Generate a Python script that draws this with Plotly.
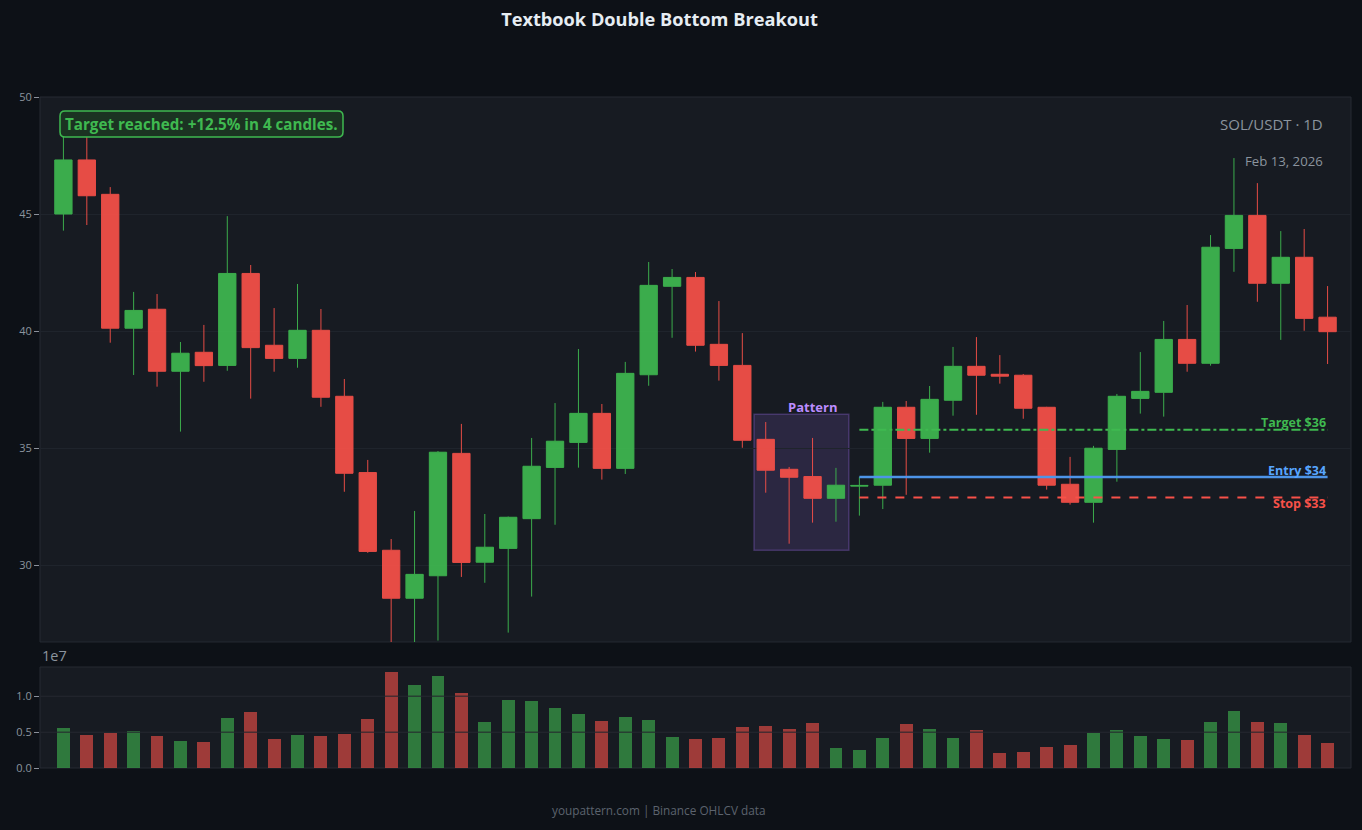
import pandas as pd
import plotly.graph_objects as go

# ---------------- data ----------------
dates = pd.date_range(end="2026-02-13", periods=55, freq="D")

opens = [45.00, 47.31, 45.84, 40.12, 40.93, 38.28, 39.09, 38.53, 42.46, 39.39,
         38.83, 40.03, 37.21, 33.95, 30.63, 28.58, 29.54, 34.77, 30.12, 30.71,
         31.98, 34.17, 35.24, 36.48, 34.13, 38.13, 41.91, 42.29, 39.43, 38.53,
         35.37, 34.09, 33.78, 32.85, 33.37, 33.41, 36.74, 35.41, 37.04, 38.49,
         38.15, 38.11, 36.74, 33.45, 32.68, 34.94, 37.12, 37.38, 39.64, 38.62,
         43.53, 44.94, 42.04, 43.15, 40.59]
highs = [48.60, 48.40, 46.15, 41.67, 41.58, 39.53, 40.26, 44.91, 42.82, 40.98,
         42.01, 40.94, 37.95, 34.49, 31.11, 32.31, 34.87, 36.03, 32.18, 32.07,
         35.43, 36.92, 39.23, 36.88, 38.68, 42.95, 42.65, 42.52, 41.28, 39.91,
         36.11, 34.19, 35.43, 34.15, 33.77, 36.97, 37.01, 37.65, 39.32, 39.74,
         38.97, 38.16, 36.76, 34.62, 35.09, 37.31, 39.10, 40.43, 41.11, 44.10,
         47.39, 46.32, 44.27, 44.36, 41.92]
lows = [44.29, 44.53, 39.50, 38.12, 37.62, 35.70, 37.83, 38.30, 37.11, 38.26,
        38.43, 36.76, 33.13, 30.52, 26.50, 26.60, 26.77, 29.49, 29.24, 27.11,
        28.65, 31.72, 34.16, 33.65, 33.89, 37.66, 39.71, 39.12, 37.88, 35.01,
        33.09, 30.91, 31.81, 31.85, 32.11, 32.39, 33.00, 34.80, 36.38, 36.42,
        37.75, 36.25, 33.22, 32.58, 31.81, 33.56, 36.47, 36.34, 38.26, 38.52,
        42.53, 41.25, 39.62, 40.01, 38.59]
closes = [47.31, 45.78, 40.12, 40.88, 38.28, 39.05, 38.52, 42.46, 39.29, 38.83,
          40.03, 37.17, 33.92, 30.58, 28.58, 29.60, 34.82, 30.11, 30.76, 32.04,
          34.22, 35.29, 36.48, 34.13, 38.19, 41.95, 42.29, 39.39, 38.53, 35.33,
          34.05, 33.75, 32.85, 33.41, 33.40, 36.74, 35.41, 37.08, 38.49, 38.11,
          38.07, 36.70, 33.41, 32.68, 34.99, 37.21, 37.42, 39.64, 38.62, 43.58,
          44.94, 42.04, 43.15, 40.54, 39.97]
volumes = [5.58e6, 4.60e6, 4.88e6, 5.16e6, 4.47e6, 3.77e6, 3.63e6, 6.98e6, 7.81e6, 4.05e6,
           4.60e6, 4.47e6, 4.74e6, 6.84e6, 13.40e6, 11.58e6, 12.84e6, 10.47e6, 6.42e6, 9.49e6,
           9.35e6, 8.37e6, 7.53e6, 6.56e6, 7.12e6, 6.70e6, 4.33e6, 4.05e6, 4.20e6, 5.70e6,
           5.85e6, 5.45e6, 6.30e6, 2.80e6, 2.50e6, 4.20e6, 6.10e6, 5.40e6, 4.20e6, 5.30e6,
           2.10e6, 2.20e6, 2.90e6, 3.20e6, 4.90e6, 5.30e6, 4.50e6, 4.00e6, 3.90e6, 6.40e6,
           8.00e6, 6.40e6, 6.30e6, 4.60e6, 3.50e6]

entry_level = 33.76
target_level = 35.78
stop_level = 32.88
level_start = 34          # index where trade levels begin
pattern_range = (29.5, 33.55)   # candle index span of the pattern box
pattern_price = (30.63, 36.44)
pattern_label_idx = 32
pattern_label_price = 36.74

title_text = "Textbook Double Bottom Breakout"
symbol_text = "SOL/USDT · 1D"
date_text = "Feb 13, 2026"
result_text = "Target reached: +12.5% in 4 candles."
footer_text = "youpattern.com | Binance OHLCV data"

# ---------------- style ----------------
GREEN = "#3fb950"
RED = "#f85149"
BLUE = "#4d94e8"
PURPLE = "#bc8cff"
PAPER = "#0d1117"
PLOT = "#171b22"
TXT = "#8b949e"
FONT = "Open Sans"

day = pd.Timedelta(days=1)
x_range = [dates[0] - day, dates[-1] + day]

vol_colors = ["rgba(63,185,80,0.6)" if c >= o else "rgba(248,81,73,0.6)"
              for o, c in zip(opens, closes)]

fig = go.Figure()

fig.add_trace(go.Candlestick(
    x=dates, open=opens, high=highs, low=lows, close=closes,
    increasing=dict(line=dict(color=GREEN, width=1), fillcolor=GREEN),
    decreasing=dict(line=dict(color=RED, width=1), fillcolor=RED),
    opacity=0.92, whiskerwidth=0, xaxis="x", yaxis="y", showlegend=False,
    name="SOL/USDT"))

fig.add_trace(go.Bar(
    x=dates, y=volumes, marker=dict(color=vol_colors, line=dict(width=0)),
    width=0.55 * 86400000, xaxis="x2", yaxis="y2", showlegend=False,
    name="Volume"))

shapes = []
# plot area borders
for xr, yr in (("x domain", "y domain"), ("x2 domain", "y2 domain")):
    shapes.append(dict(type="rect", xref=xr, yref=yr, x0=0, x1=1, y0=0, y1=1,
                       line=dict(color="#262b33", width=1), layer="below"))

# pattern box
shapes.append(dict(type="rect", xref="x", yref="y",
                   x0=dates[0] + pattern_range[0] * day, x1=dates[0] + pattern_range[1] * day,
                   y0=pattern_price[0], y1=pattern_price[1],
                   fillcolor="rgba(163,113,247,0.15)",
                   line=dict(color="rgba(163,113,247,0.28)", width=1.5), layer="below"))

# trade levels
for lvl, col, dash, w in ((target_level, GREEN, "dashdot", 2),
                          (stop_level, RED, "dash", 2),
                          (entry_level, BLUE, "solid", 2.5)):
    shapes.append(dict(type="line", xref="x", yref="y",
                       x0=dates[level_start], x1=dates[-1], y0=lvl, y1=lvl,
                       line=dict(color=col, width=w, dash=dash), layer="above"))

# volume grid lines drawn over the bars
for v in (5e6, 1e7):
    shapes.append(dict(type="line", xref="x2 domain", yref="y2", x0=0, x1=1, y0=v, y1=v,
                       line=dict(color="rgba(34,37,44,0.7)", width=1.5), layer="above"))

# rounded badge behind the result text (paper coords; plot area is 1311 x 671 px)
W, H = 1311.0, 671.0
bx0, bx1 = 20 / W, 303 / W
by0, by1 = 1 - 40 / H, 1 - 14 / H
rx, ry = 5 / W, 5 / H
badge_path = (f"M {bx0+rx},{by1} L {bx1-rx},{by1} Q {bx1},{by1} {bx1},{by1-ry} "
              f"L {bx1},{by0+ry} Q {bx1},{by0} {bx1-rx},{by0} L {bx0+rx},{by0} "
              f"Q {bx0},{by0} {bx0},{by0+ry} L {bx0},{by1-ry} Q {bx0},{by1} {bx0+rx},{by1} Z")
shapes.append(dict(type="path", xref="paper", yref="paper", path=badge_path,
                   fillcolor="#1b3322", line=dict(color=GREEN, width=1.5), layer="above"))

annotations = [
    dict(text=f"<b>{result_text}</b>", xref="paper", yref="paper", x=(bx0 + bx1) / 2,
         y=(by0 + by1) / 2, xanchor="center", yanchor="middle", showarrow=False,
         font=dict(family=FONT, size=15.2, color=GREEN)),
    dict(text=symbol_text, xref="paper", yref="paper", x=0.9802, y=0.9598,
         xanchor="right", yanchor="middle", showarrow=False,
         font=dict(family=FONT, size=15, color=TXT)),
    dict(text=date_text, xref="paper", yref="paper", x=0.9802, y=0.9046,
         xanchor="right", yanchor="middle", showarrow=False,
         font=dict(family=FONT, size=13.2, color=TXT)),
    dict(text="<b>Pattern</b>", xref="x", yref="y",
         x=dates[pattern_label_idx], y=pattern_label_price,
         xanchor="center", yanchor="middle", showarrow=False,
         font=dict(family=FONT, size=13, color=PURPLE)),
    dict(text=f"<b>Target ${round(target_level)}</b>", xref="x", yref="y",
         x=dates[-1], y=36.07, xanchor="right", yanchor="middle", showarrow=False,
         font=dict(family=FONT, size=12.5, color=GREEN)),
    dict(text=f"<b>Entry ${round(entry_level)}</b>", xref="x", yref="y",
         x=dates[-1], y=34.06, xanchor="right", yanchor="middle", showarrow=False,
         font=dict(family=FONT, size=12.5, color="#58a6ff")),
    dict(text=f"<b>Stop ${round(stop_level)}</b>", xref="x", yref="y",
         x=dates[-1], y=32.62, xanchor="right", yanchor="middle", showarrow=False,
         font=dict(family=FONT, size=12.5, color=RED)),
    dict(text="1e7", xref="paper", yref="paper", x=0.0, y=0.1684,
         xanchor="left", yanchor="middle", showarrow=False,
         font=dict(family=FONT, size=14.5, color=TXT)),
    dict(text=footer_text, xref="paper", yref="paper", x=0.4722, y=-0.0626,
         xanchor="center", yanchor="middle", showarrow=False,
         font=dict(family=FONT, size=11.8, color="#5c636e")),
]

axis_common = dict(showline=False, zeroline=False, ticks="outside", ticklen=5,
                   tickcolor="#8b909a", tickwidth=1,
                   tickfont=dict(family=FONT, size=11, color=TXT))

fig.update_layout(
    width=1362, height=830,
    paper_bgcolor=PAPER, plot_bgcolor=PLOT,
    margin=dict(l=40, r=11, t=97, b=62),
    boxgap=0.26, boxgroupgap=0,
    title=dict(text=f"<b>{title_text}</b>", x=0.4842, xanchor="center",
               y=0.976, yanchor="middle",
               font=dict(family=FONT, size=18.2, color="#e6edf3")),
    font=dict(family=FONT, color=TXT),
    showlegend=False,
    xaxis=dict(domain=[0, 1], anchor="y", range=x_range, showticklabels=False,
               showgrid=False, zeroline=False, ticks="", rangeslider=dict(visible=False)),
    yaxis=dict(domain=[0.1878, 1], anchor="x", range=[26.71, 50],
               tickvals=[30, 35, 40, 45, 50], showgrid=True, gridcolor="#1f242c",
               gridwidth=1, **axis_common),
    xaxis2=dict(domain=[0, 1], anchor="y2", matches="x", range=x_range,
                showticklabels=False, showgrid=False, zeroline=False, ticks=""),
    yaxis2=dict(domain=[0, 0.1505], anchor="x2", range=[0, 1.41e7],
                tickvals=[0, 5e6, 1e7], ticktext=["0.0", "0.5", "1.0"],
                showgrid=True, gridcolor="#1f242c", **axis_common),
    shapes=shapes,
    annotations=annotations,
    bargap=0,
)

fig.write_html("out.html")
